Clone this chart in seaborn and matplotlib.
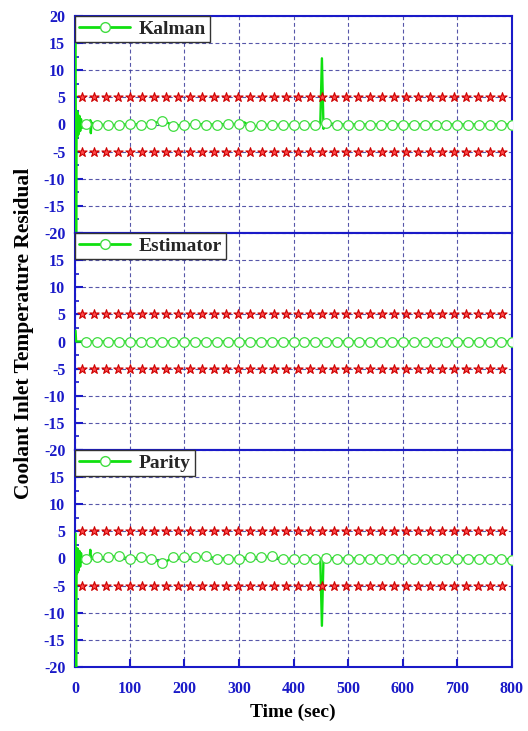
import numpy as np
import pandas as pd
import seaborn as sns
import matplotlib.pyplot as plt
from matplotlib.lines import Line2D
from matplotlib.ticker import MultipleLocator

sns.set_theme(style="white")
plt.rcParams["font.family"] = ["Liberation Serif", "DejaVu Serif"]
plt.rcParams["font.weight"] = "bold"

# ---- data -------------------------------------------------------------
panel_names = ["Kalman", "Estimator", "Parity"]

# sampled residual points (circle markers)
marker_t = [20, 40, 60, 80, 100, 120, 140, 160, 180, 200, 220, 240, 260, 280,
            300, 320, 340, 360, 380, 400, 420, 440, 460, 480, 500, 520, 540,
            560, 580, 600, 620, 640, 660, 680, 700, 720, 740, 760, 780, 800]

kalman_marker_v = [0.1, 0.0, -0.1, -0.1, 0.1, 0.0, 0.1, 0.7, -0.2, -0.1, 0.1,
                   0.0, 0.0, 0.1, 0.1, -0.3, 0.0, -0.1, 0.0, -0.1, 0.0, -0.1,
                   0.3, 0.0, 0.0, 0.0, 0.0, 0.0, 0.0, 0.0, 0.0, 0.0, 0.0, 0.0,
                   0.0, 0.0, 0.0, 0.0, 0.0, 0.0]
estimator_marker_v = [0.0] * 40
parity_marker_v = [0.0, 0.2, 0.2, 0.5, -0.1, 0.2, 0.0, -0.9, 0.2, 0.2, 0.2,
                   0.4, 0.0, 0.0, -0.1, 0.3, 0.2, 0.4, -0.1, 0.0, 0.0, 0.0,
                   0.1, 0.0, 0.0, 0.0, 0.0, 0.0, 0.0, 0.0, 0.0, 0.0, 0.0, 0.0,
                   0.0, 0.0, 0.0, 0.0, 0.0, -0.2]

# start-up transient and fault spike samples (line only)
kalman_extra_t = [1.0, 2.0, 3.0, 4.0, 5, 6.5, 8, 9.5, 11, 13, 16, 27, 28, 29,
                  30, 32, 170, 310, 326, 449, 452, 455, 457]
kalman_extra_v = [15, -24, 2.5, -2.4, 2.2, -1.8, 1.6, -1.2, 1.0, -0.6, 0.3,
                  0.1, 0.8, -1.6, 0.4, 0.0, 0.3, 0.4, -0.5, 0.0, 12.2, -0.8, 0.2]
estimator_extra_t = [1.0, 2.0]
estimator_extra_v = [2.0, 0.0]
parity_extra_t = [1.0, 2.0, 3.0, 4.0, 5, 6.5, 8, 9.5, 11, 13, 16, 27, 28, 29,
                  30, 32, 449, 452, 455, 457]
parity_extra_v = [4.6, -24, 1.9, -2.7, 1.8, -2.2, 1.4, -1.5, 1.0, -0.6, 0.3,
                  0.1, 1.6, -0.4, 0.3, 0.0, 0.0, -12.4, 0.6, 0.0]

# detection thresholds (star markers)
threshold_t = [12, 34, 56, 78, 100, 122, 144, 166, 188, 210, 232, 254, 276,
               298, 320, 342, 364, 386, 408, 430, 452, 474, 496, 518, 540, 562,
               584, 606, 628, 650, 672, 694, 716, 738, 760, 782]
upper_threshold = 5
lower_threshold = -5

y_ticks = [-20, -15, -10, -5, 0, 5, 10, 15, 20]
x_ticks = [0, 100, 200, 300, 400, 500, 600, 700, 800]

series = {
    "Kalman": (kalman_marker_v, kalman_extra_t, kalman_extra_v),
    "Estimator": (estimator_marker_v, estimator_extra_t, estimator_extra_v),
    "Parity": (parity_marker_v, parity_extra_t, parity_extra_v),
}

# ---- styling ----------------------------------------------------------
BLUE = "#1a1ac8"
GREEN = "#10e010"
GRID = "#3a3a9a"

fig, axes = plt.subplots(3, 1, figsize=(5.28, 7.31), dpi=100, sharex=True,
                         gridspec_kw=dict(hspace=0))
fig.subplots_adjust(left=75 / 528, right=512 / 528, top=1 - 16 / 731,
                    bottom=1 - 667 / 731)

for i, (ax, name) in enumerate(zip(axes, panel_names)):
    mv, et, ev = series[name]
    line_df = pd.DataFrame({"t": list(marker_t) + list(et),
                            "v": list(mv) + list(ev)}).sort_values("t")
    mark_df = pd.DataFrame({"t": marker_t, "v": mv})
    thr_df = pd.DataFrame({
        "t": threshold_t + threshold_t,
        "v": [upper_threshold] * len(threshold_t) + [lower_threshold] * len(threshold_t),
    })

    sns.lineplot(data=line_df, x="t", y="v", ax=ax, estimator=None, sort=False,
                 color=GREEN, linewidth=1.7, zorder=3)
    sns.scatterplot(data=mark_df, x="t", y="v", ax=ax, marker="o", s=48,
                    facecolor="white", edgecolor="#40dd40", linewidth=0.9,
                    zorder=4)
    sns.scatterplot(data=thr_df, x="t", y="v", ax=ax, marker="*", s=48,
                    color="#ff4a4a", edgecolor="#cc0000", linewidth=0.8,
                    zorder=4)

    ax.set_xlim(0, 800)
    ax.set_ylim(-20, 20)
    ax.set_xlabel("")
    ax.set_ylabel("")
    ax.set_yticks(y_ticks)
    labels = [str(v) for v in y_ticks]
    if i > 0:
        labels[-1] = ""
    ax.set_yticklabels(labels)
    ax.yaxis.set_minor_locator(MultipleLocator(2.5))
    ax.set_xticks(x_ticks)

    ax.grid(True, which="major", linestyle=(0, (3.5, 2.5)), color=GRID,
            linewidth=0.8, alpha=0.85)
    ax.set_axisbelow(True)

    for sp in ax.spines.values():
        sp.set_color(BLUE)
        sp.set_linewidth(1.5)
        sp.set_visible(True)

    ax.tick_params(axis="y", which="major", direction="in", length=6,
                   width=1.5, color=BLUE, labelcolor=BLUE, labelsize=11.5,
                   pad=7, left=True, right=False)
    ax.tick_params(axis="y", which="minor", direction="in", length=3,
                   width=1.2, color=BLUE, left=True, right=False)
    if i < 2:
        ax.tick_params(axis="x", which="both", bottom=False, top=False,
                       labelbottom=False)
    else:
        ax.tick_params(axis="x", which="major", direction="in", length=6,
                       width=1.5, color=BLUE, labelcolor=BLUE, labelsize=11.5,
                       pad=10, bottom=True, top=False)
    for lab in ax.get_yticklabels() + ax.get_xticklabels():
        lab.set_fontweight("bold")

    handle = Line2D([], [], color=GREEN, linewidth=2, marker="o",
                    markersize=7, markerfacecolor="white",
                    markeredgecolor="#40dd40")
    leg = ax.legend([handle], [name], loc="upper left", borderaxespad=0,
                    frameon=True, fancybox=False, framealpha=1,
                    borderpad=0.22, handlelength=2.6, handletextpad=0.45,
                    numpoints=1, prop=dict(family="Liberation Serif",
                                           weight="bold", size=14))
    leg.get_frame().set_edgecolor("#333333")
    leg.get_frame().set_linewidth(1.0)
    leg.set_zorder(10)

fig.text(24 / 528, 1 - 333 / 731, "Coolant Inlet Temperature Residual",
         rotation=90, ha="center", va="center", fontsize=15.5,
         fontweight="bold", color="black")
fig.text(293 / 528, 1 - 712 / 731, "Time (sec)", ha="center", va="center",
         fontsize=14, fontweight="bold", color="black")

fig.savefig("out.png", dpi=100)
